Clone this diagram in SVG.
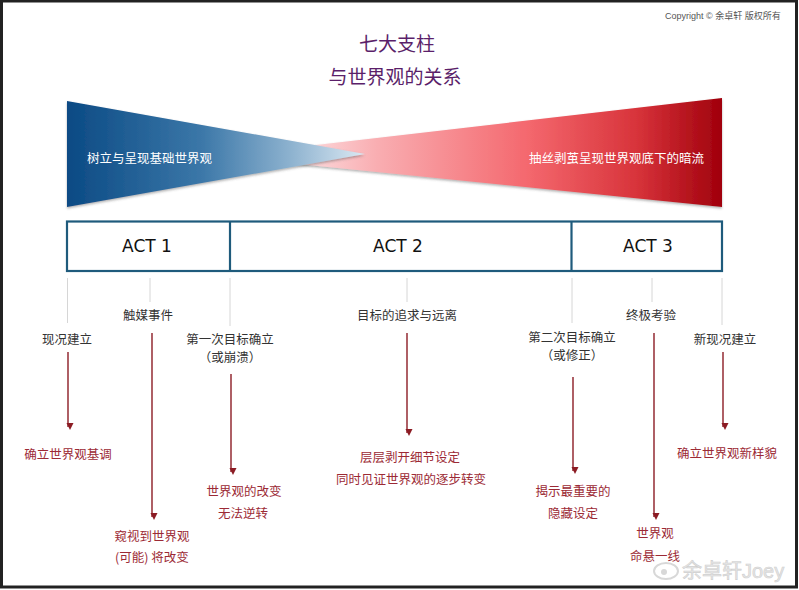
<svg xmlns="http://www.w3.org/2000/svg" width="799" height="590" viewBox="0 0 799 590">
<defs>
<linearGradient id="gBlue" gradientUnits="userSpaceOnUse" x1="67" y1="0" x2="365" y2="0">
<stop offset="0" stop-color="#0b4a84"/>
<stop offset="0.45" stop-color="#3b77a8"/>
<stop offset="0.75" stop-color="#8db2cf"/>
<stop offset="1" stop-color="#dce9f3"/>
</linearGradient>
<linearGradient id="gRed" gradientUnits="userSpaceOnUse" x1="290" y1="0" x2="722" y2="0">
<stop offset="0" stop-color="#fde3e5"/>
<stop offset="0.2" stop-color="#f9aeb2"/>
<stop offset="0.55" stop-color="#f4686e"/>
<stop offset="0.8" stop-color="#d8343b"/>
<stop offset="1" stop-color="#a0000c"/>
</linearGradient>
<filter id="sh" x="-5%" y="-10%" width="110%" height="130%">
<feDropShadow dx="0" dy="1.5" stdDeviation="1.2" flood-color="#555" flood-opacity="0.45"/>
</filter>
<marker id="arr" markerWidth="8" markerHeight="8" refX="4" refY="6" orient="auto" markerUnits="userSpaceOnUse" viewBox="0 0 8 8">
<path d="M0.5,0 L7.5,0 L4,7 Z" fill="#8c1c24" transform="rotate(-90 4 4)"/>
</marker>
<style>
.title{font-family:"Noto Sans CJK SC",sans-serif;font-size:19px;fill:#5b1f6a;text-anchor:middle}
.copy{font-family:"Liberation Sans","Noto Sans CJK SC",sans-serif;font-size:9px;fill:#555}
.band{font-family:"Noto Sans CJK SC",sans-serif;font-size:12.5px;fill:#ffffff}
.act{font-family:"DejaVu Sans",sans-serif;font-size:17px;fill:#111;text-anchor:middle}
.box{fill:#ffffff;stroke:#1f5b7c;stroke-width:2.2}
.div{stroke:#1f5b7c;stroke-width:2.2}
.guide{stroke:#d6d6d6;stroke-width:1;fill:none}
.lbl{font-family:"Noto Sans CJK SC",sans-serif;font-size:12.5px;fill:#333;text-anchor:middle}
.res{font-family:"Noto Sans CJK SC",sans-serif;font-size:12.5px;fill:#9c2a35;text-anchor:middle}
.arrow{stroke:#8c1c24;stroke-width:1.4;fill:none}
.wm{font-family:"Liberation Sans","Noto Sans CJK SC",sans-serif;font-size:20px;fill:#e6e6e6;stroke:#cfcfcf;stroke-width:0.6}
</style>
</defs>
<rect x="0" y="0" width="799" height="590" fill="#ffffff"/>
<rect x="1.5" y="1" width="795" height="586" fill="none" stroke="#222" stroke-width="3"/>

<text class="copy" x="665" y="19">Copyright © 余卓轩 版权所有</text>

<g id="title">
<text class="title" x="397" y="51">七大支柱</text>
<text class="title" x="395" y="84">与世界观的关系</text>
</g>

<g id="band-red">
<polygon points="722,98 722,207 220,156" fill="url(#gRed)" filter="url(#sh)"/>
<text class="band" x="704" y="163" text-anchor="end">抽丝剥茧呈现世界观底下的暗流</text>
</g>
<g id="band-blue">
<polygon points="67,101 67,207 365,154" fill="url(#gBlue)" filter="url(#sh)"/>
<text class="band" x="87" y="163">树立与呈现基础世界观</text>
</g>

<g id="acts">
<rect class="box" x="67" y="221.5" width="655" height="49.5"/>
<line class="div" x1="230" y1="221.5" x2="230" y2="271"/>
<line class="div" x1="571.5" y1="221.5" x2="571.5" y2="271"/>
<text class="act" x="147" y="252">ACT 1</text>
<text class="act" x="398" y="252">ACT 2</text>
<text class="act" x="648" y="252">ACT 3</text>
</g>

<g id="connectors">
<line class="guide" x1="67.5" y1="278" x2="67.5" y2="323"/>
<line class="guide" x1="150" y1="278" x2="150" y2="302"/>
<line class="guide" x1="230" y1="278" x2="230" y2="326"/>
<line class="guide" x1="407" y1="278" x2="407" y2="302"/>
<line class="guide" x1="572" y1="278" x2="572" y2="323"/>
<line class="guide" x1="652" y1="278" x2="652" y2="302"/>
<line class="guide" x1="722" y1="278" x2="722" y2="325"/>

<line class="arrow" x1="68" y1="352" x2="68" y2="427" marker-end="url(#arr)"/>
<line class="arrow" x1="152" y1="333" x2="152" y2="517" marker-end="url(#arr)"/>
<line class="arrow" x1="231" y1="374" x2="231" y2="472" marker-end="url(#arr)"/>
<line class="arrow" x1="407" y1="333" x2="407" y2="433" marker-end="url(#arr)"/>
<line class="arrow" x1="573" y1="377" x2="573" y2="471" marker-end="url(#arr)"/>
<line class="arrow" x1="654" y1="333" x2="654" y2="517" marker-end="url(#arr)"/>
<line class="arrow" x1="723" y1="352" x2="723" y2="427" marker-end="url(#arr)"/>
</g>

<g id="n-status">
<text class="lbl" x="67" y="344">现况建立</text>
<text class="res" x="68" y="459">确立世界观基调</text>
</g>
<g id="n-catalyst">
<text class="lbl" x="148" y="320">触媒事件</text>
<text class="res" x="152" y="541">窥视到世界观</text>
<text class="res" x="152" y="562">(可能) 将改变</text>
</g>
<g id="n-goal1">
<text class="lbl" x="230" y="344">第一次目标确立</text>
<text class="lbl" x="230" y="362">（或崩溃）</text>
<text class="res" x="244" y="496">世界观的改变</text>
<text class="res" x="243" y="518">无法逆转</text>
</g>
<g id="n-pursuit">
<text class="lbl" x="407" y="320">目标的追求与远离</text>
<text class="res" x="410" y="462">层层剥开细节设定</text>
<text class="res" x="411" y="484">同时见证世界观的逐步转变</text>
</g>
<g id="n-goal2">
<text class="lbl" x="572" y="342">第二次目标确立</text>
<text class="lbl" x="572" y="360">（或修正）</text>
<text class="res" x="573" y="496">揭示最重要的</text>
<text class="res" x="573" y="518">隐藏设定</text>
</g>
<g id="n-final">
<text class="lbl" x="651" y="320">终极考验</text>
<text class="res" x="655" y="538">世界观</text>
<text class="res" x="655" y="561">命悬一线</text>
</g>
<g id="n-newstatus">
<text class="lbl" x="725" y="344">新现况建立</text>
<text class="res" x="727" y="458">确立世界观新样貌</text>
</g>

<g id="watermark">
<ellipse cx="666" cy="571" rx="12" ry="8" fill="none" stroke="#d8d8d8" stroke-width="2"/>
<circle cx="664" cy="572" r="3" fill="#d8d8d8"/>
<text class="wm" x="682" y="578">余卓轩Joey</text>
</g>
</svg>
